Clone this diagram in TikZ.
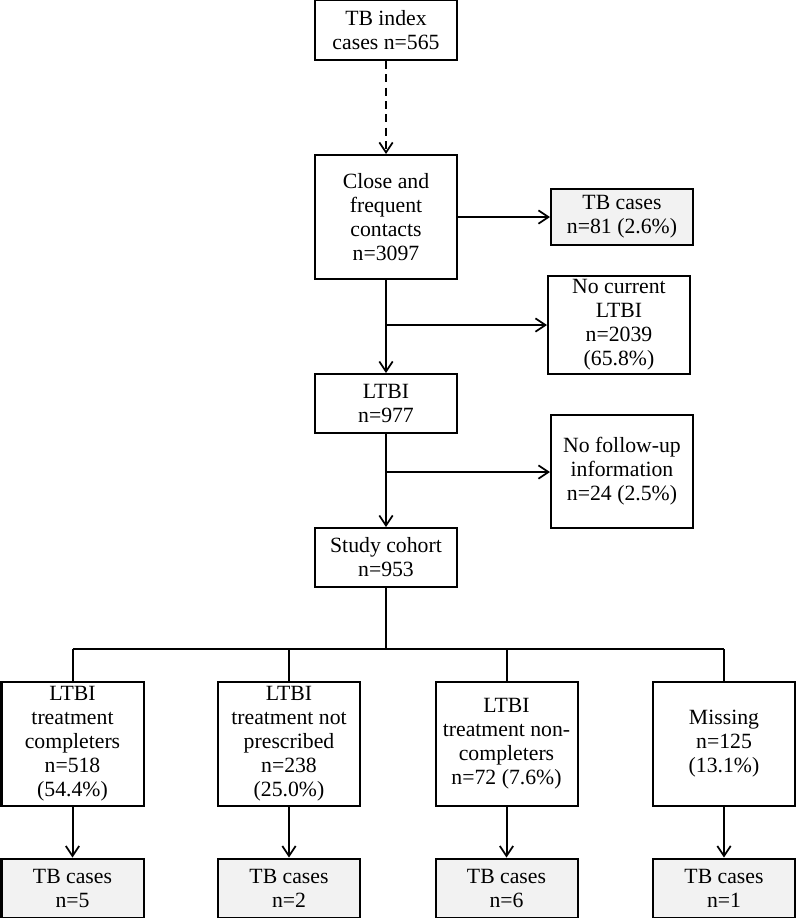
\documentclass[tikz,border=0pt]{standalone}
\usepackage{fontspec}
\setmainfont{Liberation Serif}
\usetikzlibrary{arrows.meta}
\begin{document}
\begin{tikzpicture}[x=0.75pt,y=-0.75pt,
  box/.style={draw=black, line width=1.5pt, minimum width=106.5pt, inner sep=0pt, align=center,
    font=\fontsize{16.3}{18}\selectfont, fill=white},
  tbbox/.style={box, fill=black!5},
  arr/.style={line width=1.5pt, -{Straight Barb[length=7.5pt,width=10pt,line width=1.3pt]}},
  ln/.style={line width=1.5pt}]
\useasboundingbox (0,0) rectangle (796,918);
\node[box, minimum height=45pt] (idx) at (386,30) {TB index\\cases n=565};
\node[box, minimum height=93pt] (close) at (386,217) {Close and\\frequent\\contacts\\n=3097};
\node[tbbox, minimum height=42pt] (tb81) at (622,217) {TB cases\\n=81 (2.6\%)};
\node[box, minimum height=73.5pt] (nocur) at (619,325) {No current\\LTBI\\n=2039\\(65.8\%)};
\node[box, minimum height=44.25pt] (ltbi) at (386,403.5) {LTBI\\n=977};
\node[box, minimum height=84.75pt] (nofu) at (622,471.5) {No follow-up\\information\\n=24 (2.5\%)};
\node[box, minimum height=44.25pt] (coh) at (386,557.5) {Study cohort\\n=953};
\node[box, minimum height=93pt] (b1) at (72.5,744) {LTBI\\treatment\\completers\\n=518\\(54.4\%)};
\node[box, minimum height=93pt] (b2) at (289,744) {LTBI\\treatment not\\prescribed\\n=238\\(25.0\%)};
\node[box, minimum height=93pt] (b3) at (506.5,744) {LTBI\\treatment non-\\completers\\n=72 (7.6\%)};
\node[box, minimum height=93pt] (b4) at (724,744) {Missing\\n=125\\(13.1\%)};
\node[tbbox, minimum height=44.25pt] (t1) at (72.5,888) {TB cases\\n=5};
\node[tbbox, minimum height=44.25pt] (t2) at (289,888) {TB cases\\n=2};
\node[tbbox, minimum height=44.25pt] (t3) at (506.5,888) {TB cases\\n=6};
\node[tbbox, minimum height=44.25pt] (t4) at (724,888) {TB cases\\n=1};
\coordinate (bus) at (386,649);
\coordinate (br1) at (386,325);
\coordinate (br2) at (386,472);
\draw[arr, dash pattern=on 6pt off 4pt] (idx) -- (close);
\draw[arr] (close) -- (tb81);
\draw[arr] (close) -- (ltbi);
\draw[arr] (br1) -- (nocur.west |- br1);
\draw[arr] (ltbi) -- (coh);
\draw[arr] (br2) -- (nofu.west |- br2);
\draw[ln] (coh) -- (bus);
\draw[ln] (b1.north |- bus) -- (b4.north |- bus);
\draw[ln] (b1.north |- bus) -- (b1.north);
\draw[ln] (b2.north |- bus) -- (b2.north);
\draw[ln] (b3.north |- bus) -- (b3.north);
\draw[ln] (b4.north |- bus) -- (b4.north);
\draw[arr] (b1) -- (t1);
\draw[arr] (b2) -- (t2);
\draw[arr] (b3) -- (t3);
\draw[arr] (b4) -- (t4);
\end{tikzpicture}
\end{document}
